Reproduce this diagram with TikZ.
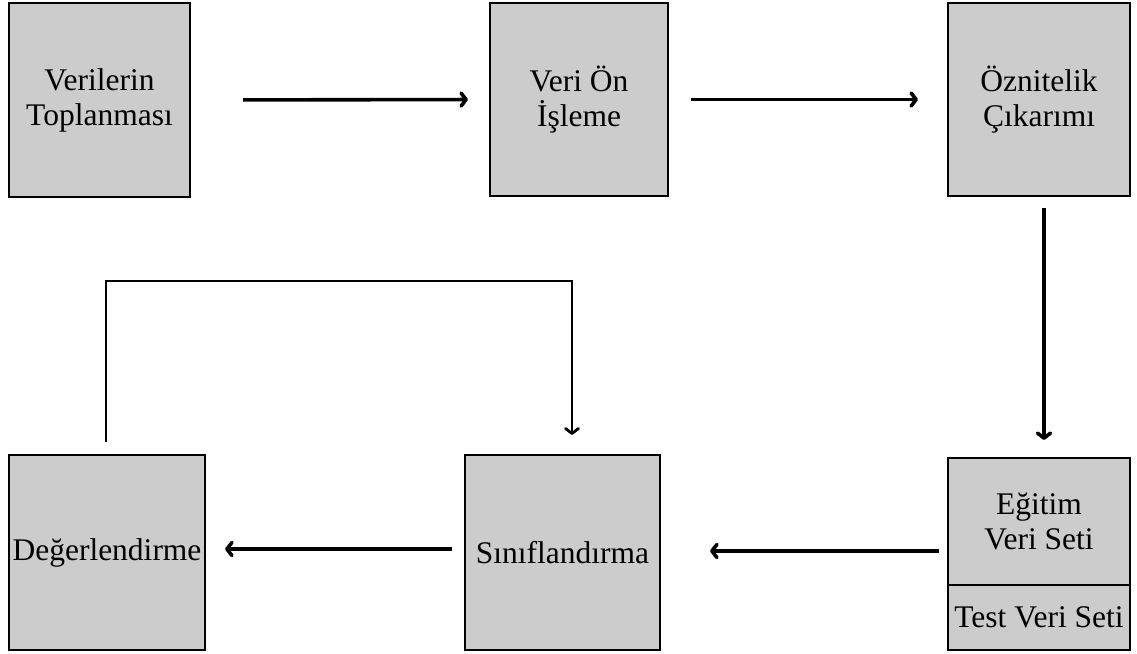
\documentclass[tikz,border=0pt]{standalone}
\usepackage{fontspec}
\setmainfont{Liberation Serif}
\usetikzlibrary{arrows.meta}
\definecolor{boxgray}{HTML}{CCCCCC}
\tikzset{
  blk/.style={draw=black, fill=boxgray, line width=2.2pt, align=center, inner sep=0pt,
    font=\fontsize{31.5}{35}\selectfont, anchor=center},
  conn/.style={line width=3.6pt, -{Straight Barb[length=5pt,width=13pt,line cap=round,line join=round]}},
  thinconn/.style={line width=2.8pt, -{Straight Barb[length=5pt,width=13pt,line cap=round,line join=round]}}
}
\begin{document}
\begin{tikzpicture}[x=1pt,y=-1pt]
\useasboundingbox (0,0) rectangle (1137,653);
\node[blk, minimum width=181pt, minimum height=194pt] (v) at (99.5,100) {Verilerin\\Toplanması};
\node[blk, minimum width=178pt, minimum height=193pt] (o) at (579,99.5) {Veri Ön\\İşleme};
\node[blk, minimum width=182pt, minimum height=193pt] (z) at (1039,99.5) {Öznitelik\\Çıkarımı};
\node[blk, minimum width=182pt, minimum height=127pt] (e) at (1039,521.5) {Eğitim\\Veri Seti};
\node[blk, minimum width=182pt, minimum height=65pt] (t) at (1039,617.5) {Test Veri Seti};
\node[blk, minimum width=195pt, minimum height=195pt] (s) at (562.5,552.5) {Sınıflandırma};
\node[blk, minimum width=196pt, minimum height=195pt] (d) at (107,552.5) {Değerlendirme};
\coordinate (lt) at (106,281);
\coordinate (rt) at (572,281);
\draw[conn, shorten <=52pt, shorten >=21pt] (v.east) -- (o.west);
\draw[conn, shorten <=22pt, shorten >=29pt] (o.east) -- (z.west);
\draw[conn, shorten <=11pt, shorten >=17pt] ([xshift=5pt]z.south) -- ([xshift=5pt]e.north);
\draw[conn, shorten <=8pt, shorten >=49pt] (e.west |- 0,551) -- (s.east |- 0,551);
\draw[conn, shorten <=12pt, shorten >=19pt] (s.west |- 0,549) -- (d.east |- 0,549);
\draw[thinconn, line join=miter, shorten <=12pt, shorten >=19pt] (d.north -| lt) -- (lt) -- (rt) -- (s.north -| rt);
\end{tikzpicture}
\end{document}
